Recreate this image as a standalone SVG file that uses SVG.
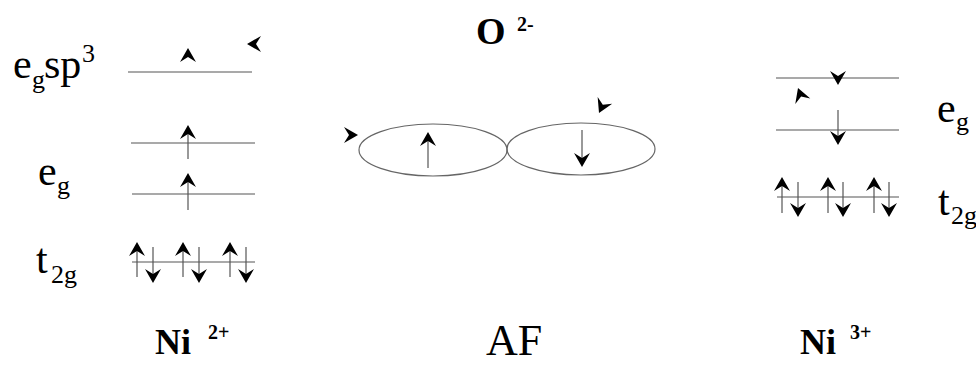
<svg xmlns="http://www.w3.org/2000/svg" width="976" height="365" viewBox="0 0 976 365">
<style>
text{font-family:'Liberation Serif','Times New Roman',serif;fill:#000}
.big{font-size:42px}
.sub{font-size:26px}
.bold{font-weight:bold}
.lvl{stroke:#555;stroke-width:1.2;fill:none}
.shaft{stroke:#555;stroke-width:1.2;fill:none}
.orb{stroke:#666;stroke-width:1.2;fill:none}
.head{fill:#000}
</style>
<defs>
<path id="h" d="M0,0 L8,14 L0,9 L-8,14 Z"/>
</defs>
<rect width="976" height="365" fill="#fff"/>

<g id="ni2-labels">
<text class="big" x="13" y="78">e</text>
<text class="sub" x="32" y="88">g</text>
<text class="big" x="44" y="78">sp</text>
<text class="sub" x="82" y="62">3</text>
<text class="big" x="38" y="185">e</text>
<text class="sub" x="57" y="194">g</text>
<text class="big" x="36" y="273">t</text>
<text class="sub" x="51" y="283">2g</text>
</g>

<g id="ni2-levels">
<line class="lvl" x1="128" y1="72" x2="252" y2="72"/>
<line class="lvl" x1="131" y1="143" x2="255" y2="143"/>
<line class="lvl" x1="132" y1="194" x2="255" y2="194"/>
<line class="lvl" x1="132" y1="262" x2="255" y2="262"/>
</g>

<g id="o-labels">
<text class="bold" x="476" y="44" font-size="38">O</text>
<text class="bold" x="517" y="31" font-size="20">2-</text>
</g>

<g id="o-orbitals">
<ellipse class="orb" cx="433" cy="150" rx="74" ry="26"/>
<ellipse class="orb" cx="581" cy="149" rx="74" ry="26"/>
</g>

<g id="ni3-levels">
<line class="lvl" x1="776" y1="78" x2="899" y2="78"/>
<line class="lvl" x1="776" y1="130" x2="899" y2="130"/>
<line class="lvl" x1="777" y1="197" x2="899" y2="197"/>
</g>

<g id="ni3-labels">
<text class="big" x="937" y="122">e</text>
<text class="sub" x="956" y="130">g</text>
<text class="big" x="938" y="215">t</text>
<text class="sub" x="951" y="224">2g</text>
</g>

<g id="bottom-labels">
<text class="bold" x="155" y="354" font-size="36">Ni</text>
<text class="bold" x="208" y="339" font-size="20">2+</text>
<text x="486" y="355" font-size="44">AF</text>
<text class="bold" x="800" y="354" font-size="36">Ni</text>
<text class="bold" x="850" y="339" font-size="20">3+</text>
</g>

<g id="connectors">
<use href="#h" class="head" transform="translate(188,48)"/>
<use href="#h" class="head" transform="translate(247,44) rotate(-90)"/>
<line class="shaft" x1="188" y1="131" x2="188" y2="159"/>
<use href="#h" class="head" transform="translate(188,125)"/>
<line class="shaft" x1="188" y1="179" x2="188" y2="210"/>
<use href="#h" class="head" transform="translate(188,173)"/>
<line class="shaft" x1="137" y1="248" x2="137" y2="277"/>
<use href="#h" class="head" transform="translate(137,242)"/>
<line class="shaft" x1="153" y1="247" x2="153" y2="277"/>
<use href="#h" class="head" transform="translate(153,283) rotate(180)"/>
<line class="shaft" x1="183" y1="248" x2="183" y2="277"/>
<use href="#h" class="head" transform="translate(183,242)"/>
<line class="shaft" x1="199" y1="247" x2="199" y2="277"/>
<use href="#h" class="head" transform="translate(199,283) rotate(180)"/>
<line class="shaft" x1="230" y1="248" x2="230" y2="277"/>
<use href="#h" class="head" transform="translate(230,242)"/>
<line class="shaft" x1="246" y1="247" x2="246" y2="277"/>
<use href="#h" class="head" transform="translate(246,283) rotate(180)"/>
<use href="#h" class="head" transform="translate(358,135) rotate(90)"/>
<use href="#h" class="head" transform="translate(599,113) rotate(205)"/>
<line class="shaft" x1="428" y1="138" x2="428" y2="168"/>
<use href="#h" class="head" transform="translate(428,132)"/>
<line class="shaft" x1="582" y1="130" x2="582" y2="161"/>
<use href="#h" class="head" transform="translate(582,167) rotate(180)"/>
<use href="#h" class="head" transform="translate(838,85) rotate(180)"/>
<use href="#h" class="head" transform="translate(798,88) rotate(-20)"/>
<line class="shaft" x1="838" y1="110" x2="838" y2="139"/>
<use href="#h" class="head" transform="translate(838,145) rotate(180)"/>
<line class="shaft" x1="782" y1="183" x2="782" y2="213"/>
<use href="#h" class="head" transform="translate(782,177)"/>
<line class="shaft" x1="798" y1="182" x2="798" y2="211"/>
<use href="#h" class="head" transform="translate(798,217) rotate(180)"/>
<line class="shaft" x1="828" y1="183" x2="828" y2="213"/>
<use href="#h" class="head" transform="translate(828,177)"/>
<line class="shaft" x1="843" y1="182" x2="843" y2="211"/>
<use href="#h" class="head" transform="translate(843,217) rotate(180)"/>
<line class="shaft" x1="874" y1="183" x2="874" y2="213"/>
<use href="#h" class="head" transform="translate(874,177)"/>
<line class="shaft" x1="889" y1="182" x2="889" y2="211"/>
<use href="#h" class="head" transform="translate(889,217) rotate(180)"/>
</g>
</svg>
